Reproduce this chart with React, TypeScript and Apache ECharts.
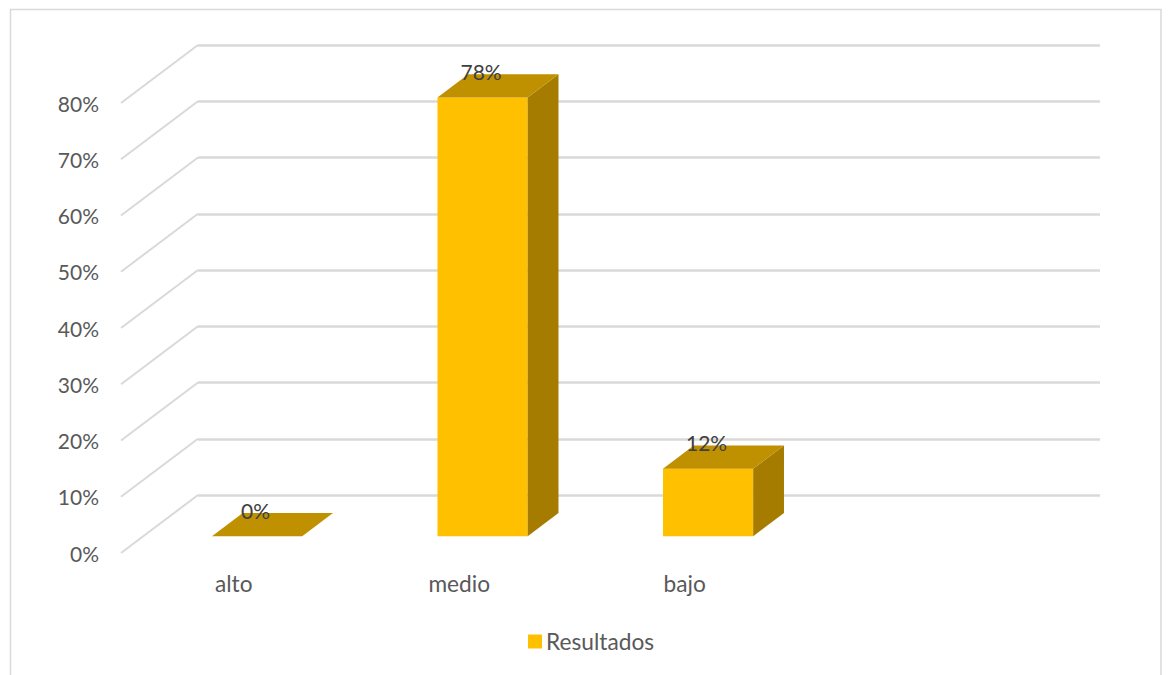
import React, { useEffect, useRef } from "react";
import * as echarts from "echarts";

const categories = ["alto", "medio", "bajo", ""];
const resultados = [0, 78, 12];
const valueTicks = [0, 10, 20, 30, 40, 50, 60, 70, 80];
const seriesName = "Resultados";

const FONT = "Lato, Carlito, sans-serif";
const DEPTH_X = 77;
const DEPTH_Y = 58;
const BAR_FRONT = 0.29;
const BAR_BACK = 0.69;
const BAR_WIDTH = 0.4;
const BAR_NUDGE = 1;

export default function App() {
  const ref = useRef<HTMLDivElement>(null);
  useEffect(() => {
    document.body.style.margin = "0";
    const chart = echarts.init(ref.current!, undefined, { renderer: "svg" });
    const renderDepthLine = (_: any, api: any) => {
      const p = api.coord([0, api.value(1)]);
      const band = api.size([1, 0])[0];
      const x = p[0] - band / 2;
      return {
        type: "line",
        silent: true,
        shape: { x1: x, y1: p[1], x2: x + DEPTH_X, y2: p[1] - DEPTH_Y },
        style: { stroke: "#d9d9d9", lineWidth: 2 },
      };
    };
    const renderBar = (_: any, api: any) => {
      const top = api.coord([api.value(0), api.value(1)]);
      const base = api.coord([api.value(0), 0]);
      const band = api.size([1, 0])[0];
      const w = band * BAR_WIDTH;
      const fx = DEPTH_X * BAR_FRONT;
      const fy = DEPTH_Y * BAR_FRONT;
      const dx = DEPTH_X * (BAR_BACK - BAR_FRONT);
      const dy = DEPTH_Y * (BAR_BACK - BAR_FRONT);
      const l = top[0] + fx - w / 2 + BAR_NUDGE;
      const r = l + w;
      const t = top[1] - fy;
      const b = base[1] - fy;
      const children: any[] = [];
      if (b - t > 0.5) {
        children.push({
          type: "rect",
          shape: { x: l, y: t, width: w, height: b - t },
          style: { fill: "#FFC000" },
        });
        children.push({
          type: "polygon",
          shape: { points: [[r, t], [r + dx, t - dy], [r + dx, b - dy], [r, b]] },
          style: { fill: "#A67C00" },
        });
      }
      children.push({
        type: "polygon",
        shape: { points: [[l, t], [r, t], [r + dx, t - dy], [l + dx, t - dy]] },
        style: { fill: "#BF9000" },
      });
      children.push({
        type: "text",
        style: {
          text: `${api.value(1)}%`,
          x: (l + r) / 2 - 1.5,
          y: t - 26,
          align: "center",
          verticalAlign: "middle",
          fill: "#404040",
          font: `21px ${FONT}`,
        },
      });
      return { type: "group", children };
    };
    chart.setOption({
      animation: false,
      backgroundColor: "#ffffff",
      textStyle: { fontFamily: FONT },
      graphic: [
        {
          type: "polyline",
          silent: true,
          shape: { points: [[10.5, 675], [10.5, 9.5], [1161, 9.5], [1161, 675]] },
          style: { stroke: "#d9d9d9", lineWidth: 1.5, fill: "none" },
        },
      ],
      legend: {
        show: true,
        data: [seriesName],
        left: 528,
        top: 630,
        icon: "rect",
        itemWidth: 14,
        itemHeight: 14,
        itemGap: 5,
        padding: 0,
        selectedMode: false,
        textStyle: { color: "#595959", fontSize: 22.7, fontFamily: FONT, padding: [0, 0, 0, -1] },
      },
      grid: [
        { left: 121, top: 103, width: 902, height: 450 },
        { left: 198, top: 45, width: 902, height: 450 },
      ],
      xAxis: [
        {
          type: "category",
          gridIndex: 0,
          data: categories,
          axisLine: { show: false },
          axisTick: { show: false },
          axisLabel: { color: "#595959", fontSize: 22.7, fontFamily: FONT, margin: 19, interval: 0 },
        },
        {
          type: "category",
          gridIndex: 1,
          data: categories,
          axisLine: { show: false },
          axisTick: { show: false },
          axisLabel: { show: false },
        },
      ],
      yAxis: [
        {
          type: "value",
          gridIndex: 0,
          min: 0,
          max: 80,
          interval: 10,
          splitLine: { show: false },
          axisLine: { show: false },
          axisTick: { show: false },
          axisLabel: { color: "#595959", fontSize: 21, fontFamily: FONT, margin: 22, formatter: "{value}%" },
        },
        {
          type: "value",
          gridIndex: 1,
          min: 0,
          max: 80,
          interval: 10,
          splitLine: { show: true, lineStyle: { color: "#d9d9d9", width: 2.5 } },
          axisLine: { show: false },
          axisTick: { show: false },
          axisLabel: { show: false },
        },
      ],
      series: [
        {
          type: "custom",
          name: "depth",
          xAxisIndex: 0,
          yAxisIndex: 0,
          silent: true,
          z: 1,
          renderItem: renderDepthLine,
          data: valueTicks.map((v) => [0, v]),
          encode: { x: 0, y: 1 },
        },
        {
          type: "custom",
          name: seriesName,
          xAxisIndex: 0,
          yAxisIndex: 0,
          z: 3,
          itemStyle: { color: "#FFC000" },
          renderItem: renderBar,
          data: resultados.map((v, i) => [i, v]),
          encode: { x: 0, y: 1 },
        },
      ],
    });
    return () => chart.dispose();
  }, []);
  return (
    <div
      ref={ref}
      style={{ position: "absolute", left: 0, top: 0, width: 1168, height: 675, overflow: "hidden" }}
    />
  );
}
